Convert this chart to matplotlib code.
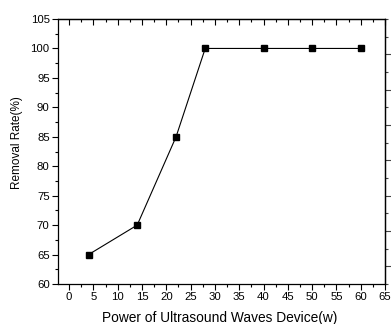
import matplotlib
matplotlib.use("Agg")
import matplotlib.pyplot as plt
from matplotlib.ticker import MultipleLocator, FixedLocator

power = [4, 14, 22, 28, 40, 50, 60]
removal = [65, 70, 85, 100, 100, 100, 100]
xticks = [0, 5, 10, 15, 20, 25, 30, 35, 40, 45, 50, 55, 60, 65]
yticks = [60, 65, 70, 75, 80, 85, 90, 95, 100, 105]

plt.rcParams['font.family'] = ['Liberation Sans', 'DejaVu Sans']
fig = plt.figure(figsize=(3.91, 3.24), dpi=100)
ax = fig.add_axes([58/391, 1-284/324, (385-58)/391, (284-19)/324])
ax.plot(power, removal, color='black', lw=0.8, marker='s', ms=5, mfc='black', mec='black')
ax.set_xlim(-2.3, 65)
ax.set_ylim(60, 105)
ax.set_xticks(xticks)
ax.set_yticks(yticks)
ax.xaxis.set_minor_locator(MultipleLocator(2.5))
ax.yaxis.set_minor_locator(MultipleLocator(2.5))
ax.tick_params(axis='both', which='both', labelsize=8.2, width=0.8)
ax.tick_params(axis='both', which='major', length=4)
ax.tick_params(axis='both', which='minor', length=2)
ax.tick_params(axis='x', which='both', direction='out', pad=2)
ax.tick_params(axis='y', which='both', direction='out', pad=2)
for sp in ax.spines.values():
    sp.set_linewidth(0.9)
sec_x = ax.secondary_xaxis('top')
sec_x.set_xticks(xticks)
sec_x.xaxis.set_minor_locator(MultipleLocator(2.5))
sec_x.tick_params(which='both', direction='in', labeltop=False, width=0.8)
sec_x.tick_params(which='major', length=4)
sec_x.tick_params(which='minor', length=2)
sec_x.spines['top'].set_linewidth(0.9)
sec_y = ax.secondary_yaxis('right')
sec_y.set_yticks([63, 69, 75, 81, 87, 93, 99])
sec_y.yaxis.set_minor_locator(FixedLocator([60, 66, 72, 78, 84, 90, 96, 102, 105]))
sec_y.tick_params(which='both', direction='out', labelright=False, width=0.8, color='#444444')
sec_y.tick_params(which='major', length=4.5)
sec_y.tick_params(which='minor', length=2.5)
sec_y.spines['right'].set_linewidth(0.9)
ax.set_xlabel('Power of Ultrasound Waves Device(w)', fontsize=9.9)
ax.set_ylabel('Removal Rate(%)', fontsize=8.5)
ax.xaxis.label.set_va('center')
ax.yaxis.label.set_va('center')
ax.xaxis.set_label_coords(0.495, -0.128)
ax.yaxis.set_label_coords(-0.125, 0.532)
fig.savefig('out.png', dpi=100)
